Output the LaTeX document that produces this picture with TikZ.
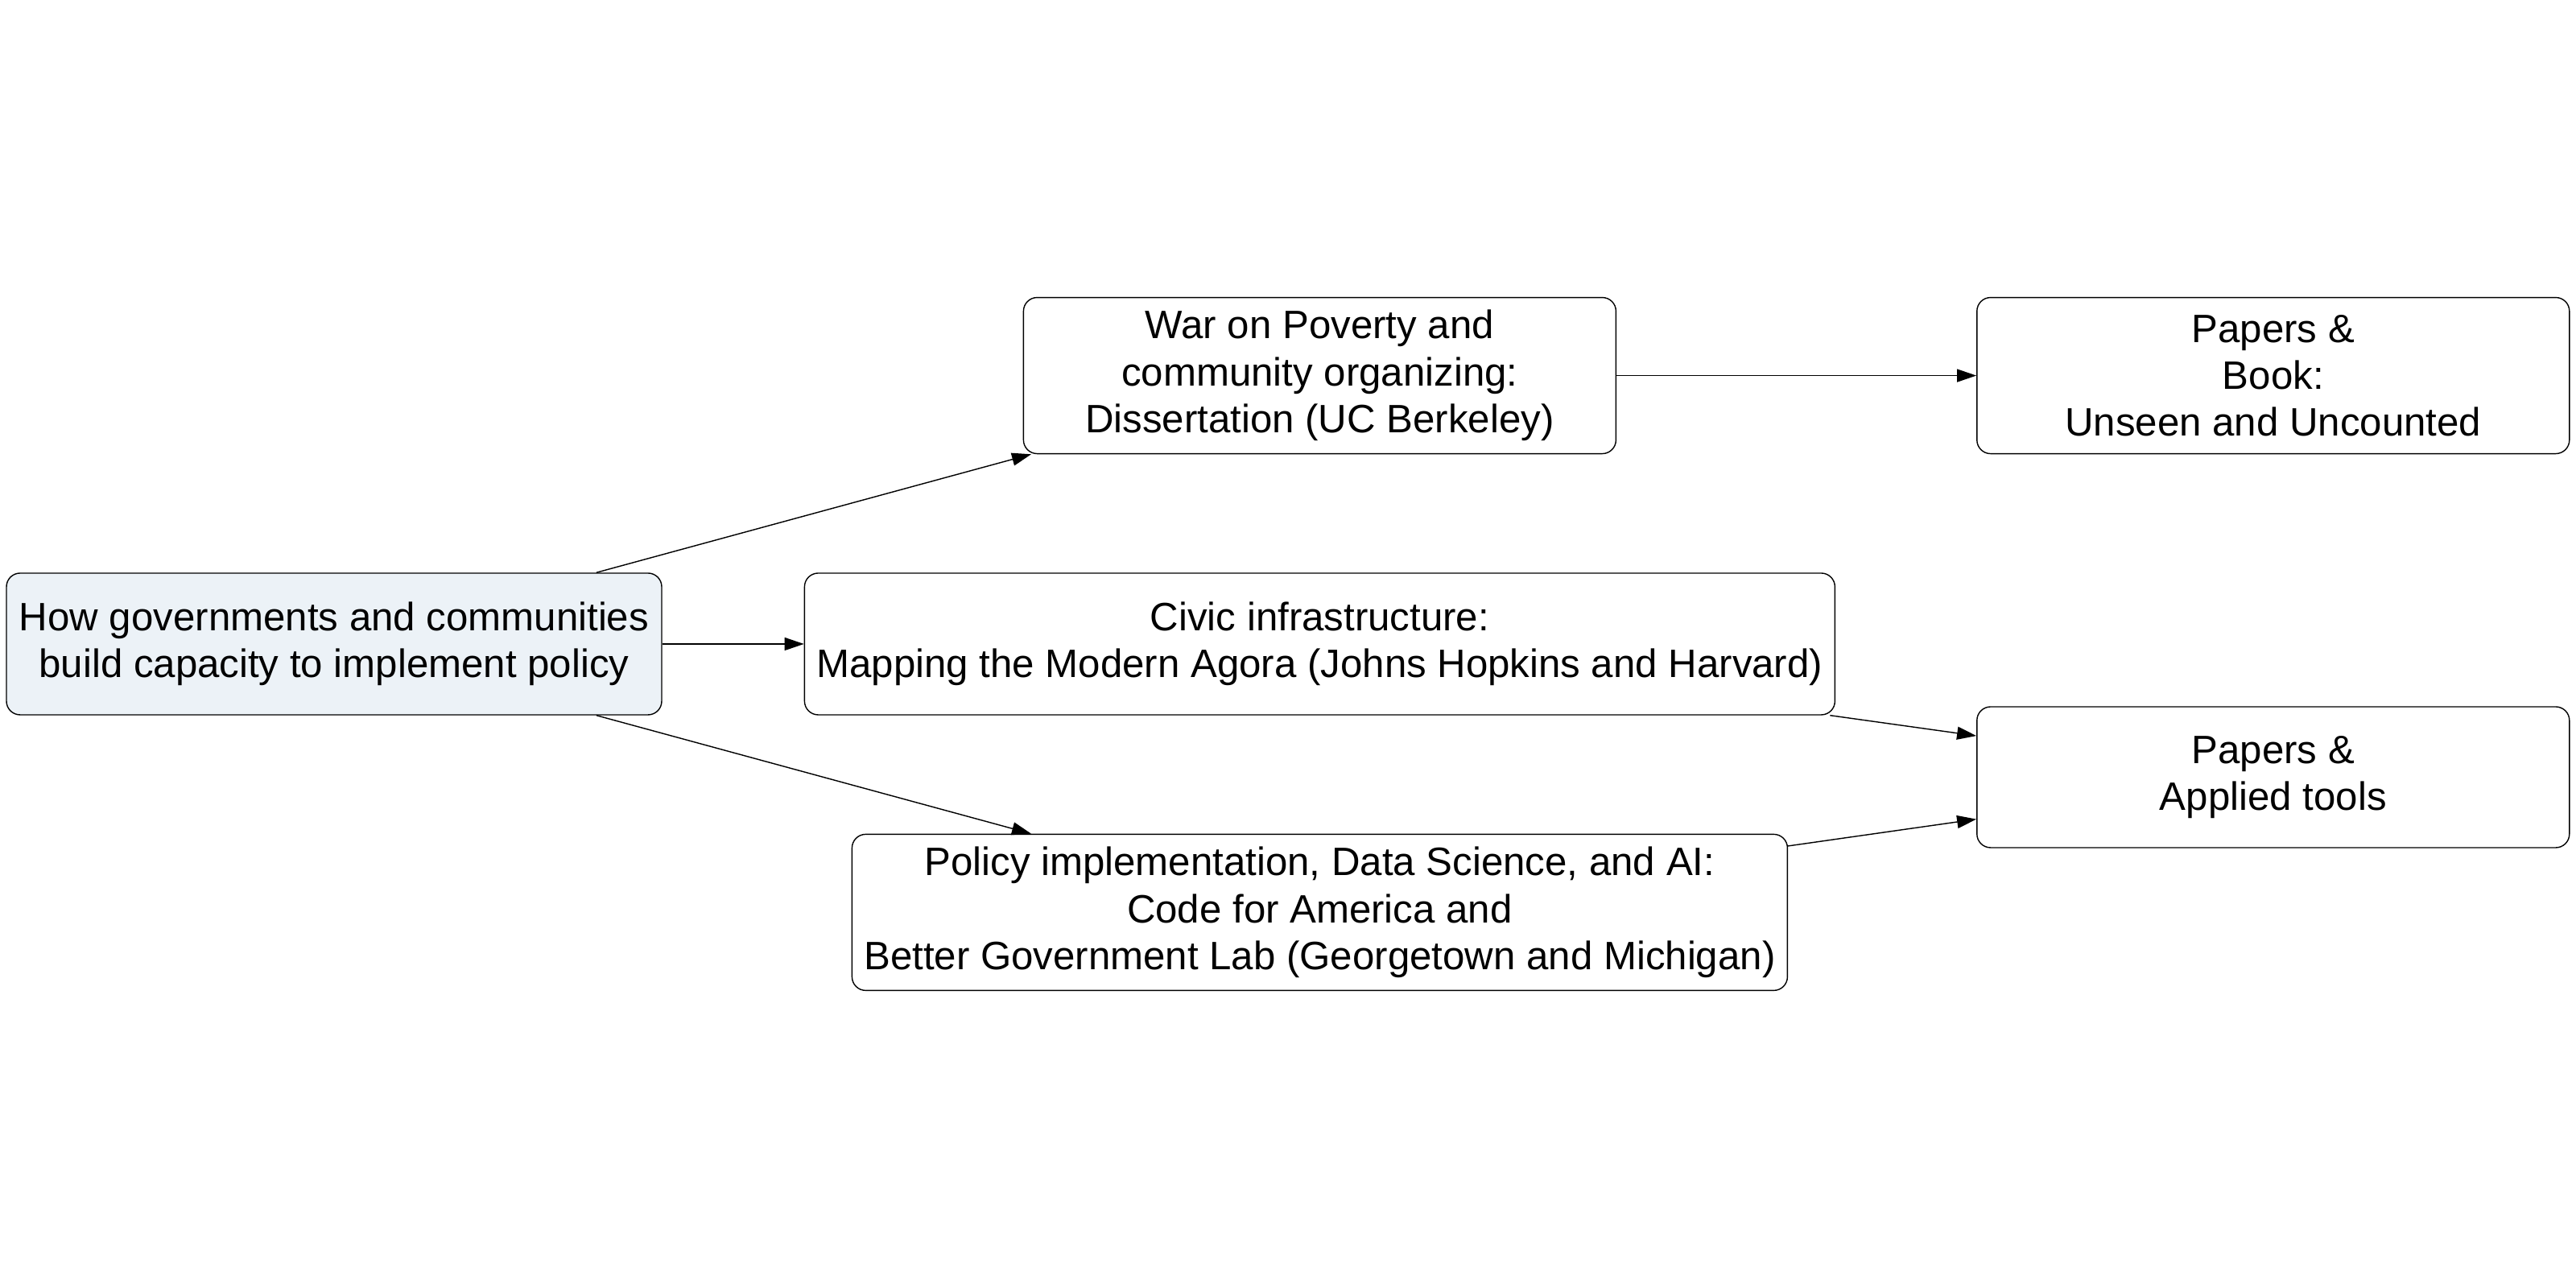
\documentclass[tikz,border=0pt]{standalone}
\usepackage{fontspec}
\setmainfont{Liberation Sans}
\usetikzlibrary{positioning, arrows.meta}
\definecolor{rootfill}{RGB}{236,242,247}
\tikzset{->,  % makes the edges directed
>={Triangle[length=0.24cm, width=0.16cm]}, % filled arrow heads
line width=0.7pt, % thin lines everywhere
box/.style={draw, rounded corners=0.17cm, align=center, inner sep=0pt,
  font=\fontsize{14}{16.6}\selectfont}, % the rounded boxes
}

\begin{document}
\begin{tikzpicture}
  \useasboundingbox (0,0) rectangle (32,16);

  \node[box, fill=rootfill, minimum width=8.14cm, minimum height=1.76cm] (root) at (4.15,8)
    {How governments and communities\\build capacity to implement policy};
  \node[box, right=1.76cm of root, minimum width=12.8cm, minimum height=1.76cm] (civic)
    {Civic infrastructure:\\Mapping the Modern Agora (Johns Hopkins and Harvard)};
  \node[box, above=1.47cm of civic, minimum width=7.36cm, minimum height=1.94cm] (war)
    {War on Poverty and\\community organizing:\\Dissertation (UC Berkeley)};
  \node[box, below=1.47cm of civic, minimum width=11.62cm, minimum height=1.94cm] (policy)
    {Policy implementation, Data Science, and AI:\\Code for America and\\Better Government Lab (Georgetown and Michigan)};
  \node[box, right=4.47cm of war, minimum width=7.36cm, minimum height=1.94cm] (book)
    {Papers \&\\Book:\\Unseen and Uncounted};
  \node[box, below=3.13cm of book, minimum width=7.36cm, minimum height=1.75cm] (tools)
    {Papers \&\\Applied tools};

  \draw (root) edge (war)
        (root) edge (civic)
        (root) edge (policy)
        (war) edge (book)
        (civic) edge (tools)
        (policy) edge (tools);

\end{tikzpicture}
\end{document}
